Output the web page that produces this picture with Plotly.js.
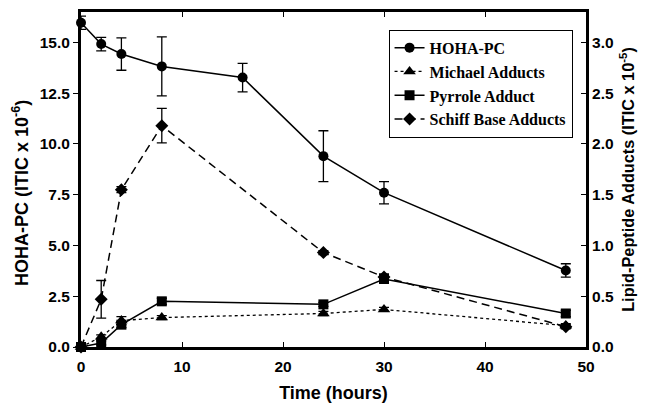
<!DOCTYPE html>
<html><head><meta charset="utf-8">
<script src="https://cdn.plot.ly/plotly-3.0.1.min.js"></script>
<style>body{margin:0;background:#fff}#chart{width:650px;height:403px}</style>
</head><body><div id="chart"></div>
<script>
const time = [0, 2, 4, 8, 16, 24, 30, 48];
const hohaPC = [15.97, 14.92, 14.43, 13.82, 13.27, 9.40, 7.60, 3.77];
const hohaErr = [0.33, 0.33, 0.8, 1.45, 0.7, 1.25, 0.55, 0.33];

const adductTime = [0, 2, 4, 8, 24, 30, 48];
const michael = [0, 0.10, 0.26, 0.29, 0.33, 0.37, 0.21];
const michaelErr = [0, 0.02, 0.04, 0.02, 0.02, 0.02, 0.02];
const pyrrole = [0, 0.04, 0.22, 0.45, 0.42, 0.67, 0.33];
const pyrroleErr = [0, 0.02, 0.03, 0.03, 0.02, 0.04, 0.03];
const schiff = [0, 0.47, 1.55, 2.18, 0.93, 0.69, 0.20];
const schiffErr = [0, 0.185, 0.03, 0.17, 0.02, 0.03, 0.02];

const seriesNames = ["HOHA-PC", "Michael Adducts", "Pyrrole Adduct", "Schiff Base Adducts"];
const xTickVals = [0, 10, 20, 30, 40, 50];
const yTickVals = [0, 2.5, 5, 7.5, 10, 12.5, 15];
const y2TickVals = [0, 0.5, 1, 1.5, 2, 2.5, 3];

const eb = arr => ({type: 'data', array: arr, visible: true, color: '#000', thickness: 1.3, width: 5});

const traces = [
  {x: time, y: hohaPC, error_y: eb(hohaErr), name: seriesNames[0], yaxis: 'y',
   mode: 'lines+markers', line: {color: '#000', width: 1.5},
   marker: {symbol: 'circle', size: 10, color: '#000'}, cliponaxis: false},
  {x: adductTime, y: michael, error_y: eb(michaelErr), name: seriesNames[1], yaxis: 'y2',
   mode: 'lines+markers', line: {color: '#000', width: 1.3, dash: '3px,3px'},
   marker: {symbol: 'triangle-up', size: 11, color: '#000'}, cliponaxis: false},
  {x: adductTime, y: pyrrole, error_y: eb(pyrroleErr), name: seriesNames[2], yaxis: 'y2',
   mode: 'lines+markers', line: {color: '#000', width: 1.5},
   marker: {symbol: 'square', size: 10, color: '#000'}, cliponaxis: false},
  {x: adductTime, y: schiff, error_y: eb(schiffErr), name: seriesNames[3], yaxis: 'y2',
   mode: 'lines+markers', line: {color: '#000', width: 1.5, dash: '8px,5px'},
   marker: {symbol: 'diamond', size: 10, color: '#000'}, cliponaxis: false}
];

const fam = 'Liberation Sans, Arial';
const tickFont = {family: fam, size: 15.5, color: '#000', weight: 'bold'};

const layout = {
  width: 650, height: 403,
  margin: {l: 81, r: 64, t: 12, b: 56},
  paper_bgcolor: '#fff', plot_bgcolor: '#fff',
  showlegend: true,
  legend: {x: 0.609, y: 0.947, xanchor: 'left', yanchor: 'top',
    bgcolor: '#fff', bordercolor: '#000', borderwidth: 1,
    font: {family: 'Liberation Serif, Times New Roman', size: 16, color: '#000', weight: 'bold'},
    tracegroupgap: 0},
  xaxis: {range: [0, 50], tickvals: xTickVals, ticktext: xTickVals.map(String),
    showgrid: false, zeroline: false, showline: true, linecolor: '#000', linewidth: 3,
    ticks: 'inside', ticklen: 5, tickcolor: '#000', mirror: 'ticks', ticklabelstandoff: 3,
    tickfont: tickFont, title: {text: 'Time (hours)', font: {family: fam, size: 18, color: '#000', weight: 'bold'}, standoff: 14}},
  yaxis: {range: [0, 16.5], tickvals: yTickVals, ticktext: yTickVals.map(v => v.toFixed(1)),
    showgrid: false, zeroline: false, showline: true, linecolor: '#000', linewidth: 3,
    ticks: 'outside', ticklen: 5, tickcolor: '#000',
    tickfont: tickFont},
  yaxis2: {range: [0, 3.3], overlaying: 'y', side: 'right',
    tickvals: y2TickVals, ticktext: y2TickVals.map(v => v.toFixed(1)),
    showgrid: false, zeroline: false, showline: true, linecolor: '#000', linewidth: 3,
    ticks: 'inside', ticklen: 5, tickcolor: '#000',
    tickfont: tickFont, title: {text: 'Lipid-Peptide Adducts (ITIC x 10<sup>-5</sup>)', font: {family: fam, size: 16.3, color: '#000', weight: 'bold'}, standoff: 10}},
  annotations: [{
    text: 'HOHA-PC (ITIC x 10<sup>-6</sup>)', textangle: -90, showarrow: false,
    xref: 'paper', yref: 'paper', x: (20 - 81) / 505, y: (347 - 193) / 335,
    xanchor: 'center', yanchor: 'middle',
    font: {family: fam, size: 18, color: '#000', weight: 'bold'}
  }]
};

Plotly.newPlot('chart', traces, layout, {displayModeBar: false, staticPlot: true});
</script></body></html>
